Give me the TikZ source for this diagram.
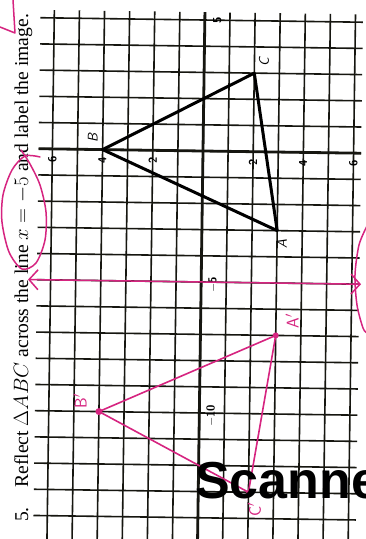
\documentclass[tikz,border=0pt]{standalone}
\usepackage{fontspec}
\setmainfont{Liberation Serif}
\newfontfamily\wmfont{Liberation Sans}
\usetikzlibrary{arrows.meta}
\definecolor{pinkink}{RGB}{214,36,128}
\definecolor{gridink}{RGB}{22,22,16}
\begin{document}
\begin{tikzpicture}[x=1pt,y=-1pt,
  gridline/.style={line width=1.6pt, draw=gridink},
  axisline/.style={line width=2.8pt, draw=gridink},
  ticklabel/.style={font=\fontsize{11.5}{13}\selectfont\sffamily\bfseries, rotate=90, inner sep=0pt},
  vlabel/.style={font=\fontsize{14}{16}\selectfont\sffamily\itshape, rotate=90, inner sep=0pt},
  plabel/.style={font=\fontsize{17}{19}\selectfont\sffamily, text=pinkink, rotate=90, inner sep=0pt},
  tri/.style={line width=3pt, draw=black, line join=round},
  ptri/.style={line width=1.6pt, draw=pinkink, line join=round},
  pinkpen/.style={line width=1.5pt, draw=pinkink, line cap=round, line join=round},
  pdot/.style={fill=pinkink}]
\useasboundingbox (0,0) rectangle (366,539);
\clip (0,0) rectangle (366,539);
\fill[white] (0,0) rectangle (366,539);
\begin{scope}[shift={(203,151)}, rotate=-0.8, x={(0pt,26.2pt)}, y={(-25.1pt,0pt)}]
  % grid
  \foreach \k in {-15,...,5} \draw[gridline] (\k,6.55) -- (\k,-6.3);
  \foreach \j in {-6,...,6} \draw[gridline] (5.3,\j) -- (-15.6,\j);
  \draw[axisline] (0,6.55) -- (0,-6.3);
  \draw[axisline] (5.3,0) -- (-15.6,0);
  % tick labels
  \node[ticklabel] (ly6) at (-0.4,6) {6};
  \node[ticklabel] (ly4) at (-0.4,4) {4};
  \node[ticklabel] (ly2) at (-0.4,2) {2};
  \node[ticklabel] (lym2) at (-0.4,-2) {2};
  \node[ticklabel] (lym4) at (-0.4,-4) {4};
  \node[ticklabel] (lym6) at (-0.4,-6) {6};
  \node[ticklabel] (lx5) at (5,-0.5) {5};
  \node[ticklabel] (lxm5) at (-5.1,-0.47) {$-$5};
  \node[ticklabel] (lxm10) at (-10.1,-0.47) {$-$10};
  \node[ticklabel] (lxm15) at (-15.25,-0.47) {$-$15};
  % original triangle
  \coordinate (A) at (-3,-3);
  \coordinate (B) at (0,4);
  \coordinate (C) at (3,-2);
  \draw[tri] (A) -- (B) -- (C) -- cycle;
  \node[vlabel] (la) at (-3.5,-3.2) {A};
  \node[vlabel] (lb) at (0.45,4.4) {B};
  \node[vlabel] (lc) at (3.42,-2.38) {C};
  % line x = -5
  \coordinate (m1) at (-5,6.9);
  \coordinate (m2) at (-5,-6.37);
  \draw[pinkpen, {Straight Barb[length=9pt,width=20pt]}-{Straight Barb[length=9pt,width=20pt]}] (m1) -- (m2);
  % image triangle
  \coordinate (A1) at (-7,-3);
  \coordinate (B1) at (-10,4);
  \coordinate (C1) at (-13,-2);
  \draw[ptri] (A1) -- (B1) -- (C1) -- cycle;
  \fill[pdot] (A1) circle[radius=3pt];
  \fill[pdot] (B1) circle[radius=3.5pt];
  \fill[pdot] (C1) circle[radius=2.2pt];
  \node[plabel] (la1) at (-6.45,-3.65) {A$'$};
  \node[plabel] (lb1) at (-9.6,4.75) {B$'$};
  \node[plabel] (lc1) at (-13.65,-2.25) {C$'$};
\end{scope}
% problem text
\node[rotate=90, anchor=base west, inner sep=0pt, font=\fontsize{19.6}{22}\selectfont] (prob) at (28,522)
  {5.\quad Reflect $\Delta ABC$ across the line $x=-5$ and label the image.};
% pink marks
\draw[pinkpen] plot[smooth] coordinates {(40,157) (25,156) (12,170) (3,195) (2,222) (9,252) (22,269) (36,263) (45,240) (46,212) (40,185) (30,164) (21,150)};
\draw[pinkpen] (13,0) -- (15,33) -- (0,27);
\draw[pinkpen] plot[smooth] coordinates {(367,226) (359,245) (355,275) (357,305) (363,328) (367,333)};
% watermark
\node[anchor=base west, inner sep=0pt, font=\wmfont\bfseries\fontsize{52}{56}\selectfont] (wm) at (195,498) {Scanne};
\end{tikzpicture}
\end{document}
